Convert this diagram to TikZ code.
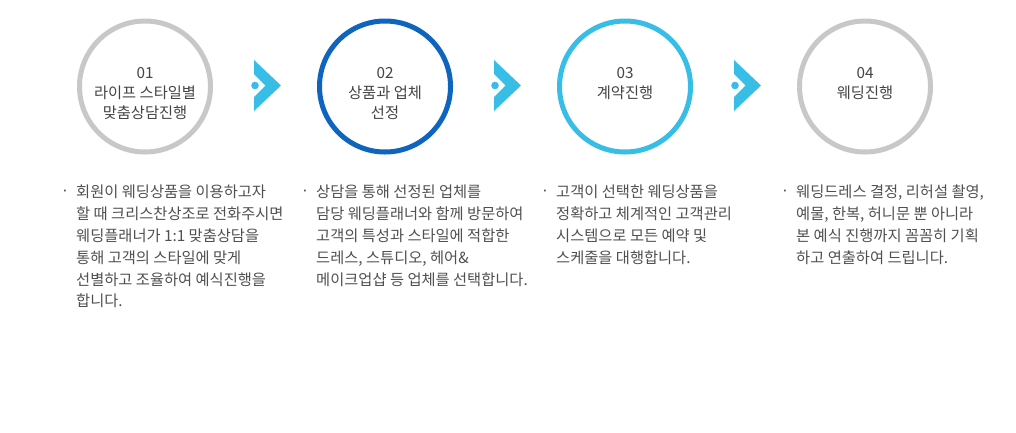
\documentclass[tikz,border=0pt]{standalone}
\usepackage{fontspec}
\setmainfont{Noto Sans CJK KR}
\usetikzlibrary{calc}
\definecolor{ringgray}{HTML}{C8C8C8}
\definecolor{ringblue}{HTML}{0F64BE}
\definecolor{ringsky}{HTML}{38BEE6}
\definecolor{titletext}{HTML}{444444}
\definecolor{bodytext}{HTML}{505050}
\tikzset{
  ring/.style={circle,draw=#1,line width=5pt,minimum size=131pt,inner sep=0pt},
  steptitle/.style={anchor=north,align=center,font=\fontsize{15.3}{19.8}\selectfont,text=titletext,inner sep=0pt},
  stepbody/.style={anchor=north west,align=left,font=\fontsize{15.3}{21.8}\selectfont,text=bodytext,inner sep=0pt},
  stepdot/.style={anchor=base,font=\fontsize{15}{15}\selectfont,text=bodytext,inner sep=0pt},
  chevron/.pic={
    \fill[ringsky] (-11,-25.5) -- (16,0) -- (-11,25.5) -- (-11,11.5) -- (0.5,0) -- (-11,-11.5) -- cycle;
    \fill[ringsky] (-10,0) circle (3.8);
  }
}
\begin{document}
\begin{tikzpicture}[x=1pt,y=-1pt]
\useasboundingbox[fill=white] (0,0) rectangle (1016,432);
% circles
\node[ring=ringgray] (c1) at (145,86.5) {};
\node[ring=ringblue] (c2) at (385,86.5) {};
\node[ring=ringsky]  (c3) at (625,86.5) {};
\node[ring=ringgray] (c4) at (865,86.5) {};
% titles
\node[steptitle] (t1) at (145,67.3) {01\\라이프 스타일별\\맞춤상담진행};
\node[steptitle] (t2) at (385,67.3) {02\\상품과 업체\\선정};
\node[steptitle] (t3) at (625,67.3) {03\\계약진행};
\node[steptitle] (t4) at (865,67.3) {04\\웨딩진행};
% chevrons between steps
\pic at ($(c1.center)!0.5!(c2.center)+(0,-1)$) {chevron};
\pic at ($(c2.center)!0.5!(c3.center)+(0,-1)$) {chevron};
\pic at ($(c3.center)!0.5!(c4.center)+(0,-1)$) {chevron};
% bullets
\node[stepdot] (b1) at (65,196.5) {·};
\node[stepdot] (b2) at (305,196.5) {·};
\node[stepdot] (b3) at (545,196.5) {·};
\node[stepdot] (b4) at (785,196.5) {·};
% descriptions
\node[stepbody] (d1) at (76,185) {회원이 웨딩상품을 이용하고자\\할 때 크리스찬상조로 전화주시면\\웨딩플래너가 1:1 맞춤상담을\\통해 고객의 스타일에 맞게\\선별하고 조율하여 예식진행을\\합니다.};
\node[stepbody] (d2) at (316,185) {상담을 통해 선정된 업체를\\담당 웨딩플래너와 함께 방문하여\\고객의 특성과 스타일에 적합한\\드레스, 스튜디오, 헤어\&\\메이크업샵 등 업체를 선택합니다.};
\node[stepbody] (d3) at (556,185) {고객이 선택한 웨딩상품을\\정확하고 체계적인 고객관리\\시스템으로 모든 예약 및\\스케줄을 대행합니다.};
\node[stepbody] (d4) at (796,185) {웨딩드레스 결정, 리허설 촬영,\\예물, 한복, 허니문 뿐 아니라\\본 예식 진행까지 꼼꼼히 기획\\하고 연출하여 드립니다.};
\end{tikzpicture}
\end{document}
